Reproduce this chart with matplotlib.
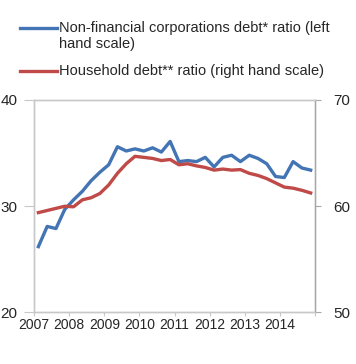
import numpy as np
import matplotlib
matplotlib.use("Agg")
import matplotlib.pyplot as plt
from matplotlib.lines import Line2D

# quarterly, 2007Q1 .. 2014Q4
years = list(range(2007, 2015))
corp_debt = [26.2, 28.1, 27.9, 29.7, 30.6, 31.4, 32.4, 33.2,
             33.9, 35.6, 35.2, 35.4, 35.2, 35.5, 35.1, 36.1,
             34.2, 34.3, 34.2, 34.6, 33.7, 34.6, 34.8, 34.2,
             34.8, 34.5, 34.0, 32.8, 32.7, 34.2, 33.6, 33.4]
hh_debt = [59.4, 59.6, 59.8, 60.0, 59.95, 60.6, 60.8, 61.2,
           62.0, 63.1, 64.0, 64.7, 64.6, 64.5, 64.3, 64.4,
           63.9, 64.0, 63.8, 63.65, 63.4, 63.5, 63.4, 63.45,
           63.1, 62.9, 62.6, 62.2, 61.8, 61.7, 61.5, 61.25]
left_ticks = [20, 30, 40]
right_ticks = [50, 60, 70]
labels = ["Non-financial corporations debt* ratio (left", "hand scale)",
          "Household debt** ratio (right hand scale)"]

blue = "#4374b3"
red = "#bf4a48"
txt = "#262626"
plt.rcParams["font.family"] = ["Liberation Sans", "DejaVu Sans"]
plt.rcParams["font.size"] = 10

fig = plt.figure(figsize=(3.56, 3.64), dpi=100)
ax = fig.add_axes([0.0955, 0.1415, 0.7895, 0.5838])
ax2 = ax.twinx()

x = years[0] + (np.arange(len(corp_debt)) + 0.5) / 4
ax.plot(x, corp_debt, color=blue, lw=2.4, solid_joinstyle="round")
ax2.plot(x, hh_debt, color=red, lw=2.4, solid_joinstyle="round")

ax.set_xlim(2007, 2015)
ax.set_ylim(20, 40)
ax2.set_ylim(50, 70)
ax.set_xticks(years + [2015])
ax.set_xticklabels([str(y) for y in years] + [""])
ax.set_yticks(left_ticks)
ax2.set_yticks(right_ticks)

for a in (ax, ax2):
    for s in a.spines.values():
        s.set_color("#c8c8c8")
        s.set_linewidth(1)
ax2.spines["right"].set_color("#a8a8a8")

ax.tick_params(axis="x", length=3, color="#c8c8c8", pad=1, labelsize=10, labelcolor=txt)
ax.tick_params(axis="y", length=7, color="#c8c8c8", pad=5, labelsize=11, labelcolor=txt)
ax2.tick_params(axis="y", length=4, color="#a8a8a8", pad=9, labelsize=11, labelcolor=txt)

# legend drawn above the plot
for yy, c in [(1 - 28 / 364, blue), (1 - 71 / 364, red)]:
    fig.add_artist(Line2D([20 / 356, 57 / 356], [yy, yy], color=c, lw=2.4,
                          transform=fig.transFigure))
fig.text(59 / 356, 1 - 28 / 364, labels[0], va="center", ha="left", color=txt, fontsize=10.5)
fig.text(59 / 356, 1 - 44 / 364, labels[1], va="center", ha="left", color=txt, fontsize=10.5)
fig.text(59 / 356, 1 - 71 / 364, labels[2], va="center", ha="left", color=txt, fontsize=10.5)

fig.savefig("out.png", dpi=100)
